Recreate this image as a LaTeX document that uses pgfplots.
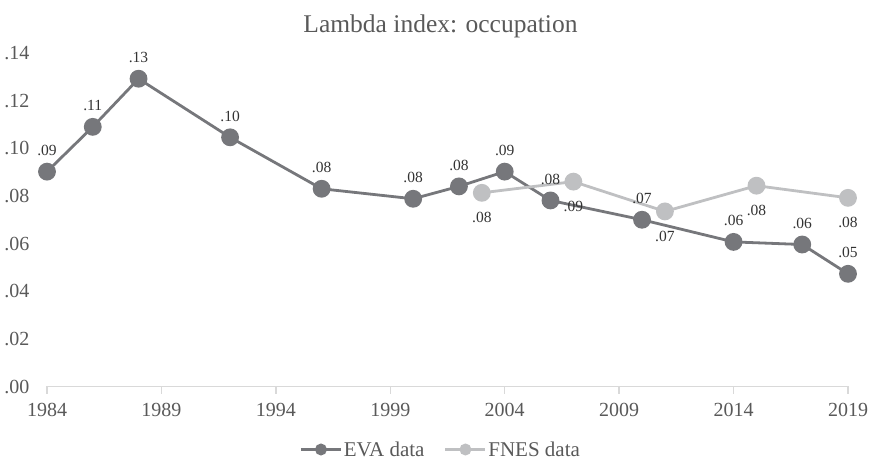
\documentclass[border=0pt]{standalone}
\usepackage{fontspec}
\setmainfont{Liberation Serif}
\usepackage{pgfplots}
\pgfplotsset{compat=1.18}
\definecolor{eva}{HTML}{76777B}
\definecolor{fnes}{HTML}{BFC0C2}
\definecolor{txt}{HTML}{595959}
\definecolor{lbl}{HTML}{333333}
\definecolor{axl}{HTML}{D9D9D9}
\begin{document}
\begin{tikzpicture}
\useasboundingbox (0bp,0bp) rectangle (873bp,465bp);
\begin{axis}[
  at={(47bp,78.5bp)}, anchor=south west,
  scale only axis, width=801bp, height=333.5bp,
  xmin=1984, xmax=2019, ymin=0, ymax=0.14,
  clip=false,
  axis x line*=bottom, axis y line*=left,
  y axis line style={draw=none},
  x axis line style={draw=axl, line width=1.3bp, -},
  xtick={1984,1989,1994,1999,2004,2009,2014,2019},
  xticklabels={1984,1989,1994,1999,2004,2009,2014,2019},
  ytick={0,0.02,0.04,0.06,0.08,0.10,0.12,0.14},
  yticklabels={.00,.02,.04,.06,.08,.10,.12,.14},
  ytick style={draw=none},
  xtick style={draw=axl, line width=1.3bp},
  tick align=outside, major tick length=7bp,
  ticklabel style={font=\fontsize{20bp}{24bp}\selectfont, text=txt},
  yticklabel style={xshift=-7bp},
  xticklabel style={yshift=-6bp},
  legend columns=2,
  legend style={at={(0.5,0)}, anchor=center, yshift=-63bp, xshift=-7bp, draw=none, fill=none,
    font=\fontsize{21bp}{24bp}\selectfont, text=txt, inner sep=0pt,
    nodes={inner sep=1.5bp},
    /tikz/every even column/.append style={column sep=18bp}},
  point meta=explicit symbolic,
]
\addplot[eva, line width=2.8bp, mark=*, mark size=7.5bp, mark options={fill=eva, draw=none},
  nodes near coords,
  every node near coord/.append style={font=\fontsize{15.5bp}{18bp}\selectfont, text=lbl, anchor=center, yshift=21bp},
  legend image code/.code={\draw[eva, line width=2.8bp] (0bp,0bp) -- (40bp,0bp); \fill[eva] (20bp,0bp) circle (4.5bp);}]
coordinates {
(1984,0.0902) [.09]
(1986,0.1090) [.11]
(1988,0.1292) [.13]
(1992,0.1046) [.10]
(1996,0.0830) [.08]
(2000,0.0788) [.08]
(2002,0.0840) [.08]
(2004,0.0902) [.09]
(2006,0.0781) [.08]
(2010,0.0700) [.07]
(2014,0.0607) [.06]
(2017,0.0596) [.06]
(2019,0.0473) [.05]
};
\addlegendentry{EVA data}
\addplot[fnes, line width=2.8bp, mark=*, mark size=7.5bp, mark options={fill=fnes, draw=none},
  nodes near coords,
  every node near coord/.append style={font=\fontsize{15.5bp}{18bp}\selectfont, text=lbl, anchor=center, yshift=-25bp},
  legend image code/.code={\draw[fnes, line width=2.8bp] (0bp,0bp) -- (40bp,0bp); \fill[fnes] (20bp,0bp) circle (4.5bp);}]
coordinates {
(2003,0.0813) [.08]
(2007,0.0860) [.09]
(2011,0.0735) [.07]
(2015,0.0843) [.08]
(2019,0.0792) [.08]
};
\addlegendentry{FNES data}
\end{axis}
\node[anchor=base, font=\fontsize{25.5bp}{30bp}\selectfont, text=txt] at (440.5bp,432bp) {Lambda index: occupation};
\end{tikzpicture}
\end{document}
